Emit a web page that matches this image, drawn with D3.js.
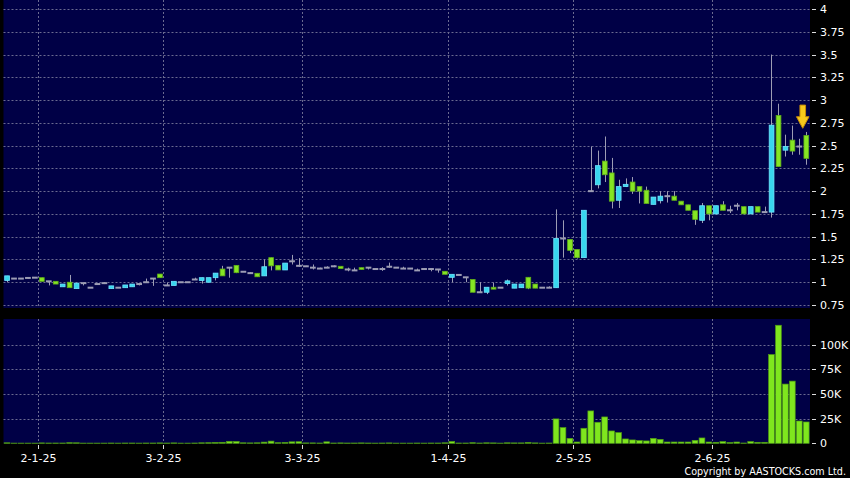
<!DOCTYPE html>
<html><head><meta charset="utf-8">
<script src="https://cdn.jsdelivr.net/npm/d3@7/dist/d3.min.js"></script>
<style>html,body{margin:0;padding:0;background:#000;}svg{display:block;}</style>
</head><body>
<svg id="chart" width="850" height="478"></svg>
<script>
// Daily OHLC (HKD), 23-12-24 .. 19-6-25
const opens = [1.02,1.04,1.04,1.047,1.05,1.05,1.01,1.01,0.95,1.0,0.93,0.99,0.94,0.98,0.99,0.93,0.94,0.94,0.95,0.98,
1.0,1.04,1.09,0.965,0.965,1.0,1.0,1.03,1.02,1.0,1.05,1.145,1.16,1.185,1.115,1.10,1.098,1.07,1.27,1.185,
1.135,1.23,1.18,1.175,1.16,1.15,1.16,1.175,1.175,1.14,1.13,1.16,1.16,1.145,1.145,1.17,1.16,1.15,1.15,1.13,
1.145,1.145,1.14,1.12,1.054,1.08,1.054,1.03,0.89,0.89,0.945,0.94,0.986,0.935,0.94,1.054,0.98,0.94,0.94,0.94,
1.48,1.47,1.36,1.27,2.0,2.07,2.33,2.20,1.90,2.05,2.10,2.05,2.01,1.855,1.895,1.945,1.945,1.89,1.85,1.785,
1.68,1.84,1.75,1.85,1.79,1.84,1.83,1.75,1.83,1.77,1.77,2.83,2.45,2.56,2.49,2.61];
const highs = [1.07,1.045,1.04,1.055,1.05,1.05,1.01,1.01,0.98,1.08,0.99,0.99,0.94,0.98,1.0,0.96,0.94,0.97,0.98,0.99,
1.04,1.04,1.09,0.997,1.01,1.0,1.0,1.05,1.05,1.05,1.10,1.18,1.16,1.185,1.115,1.11,1.098,1.25,1.27,1.185,
1.21,1.30,1.265,1.18,1.195,1.16,1.175,1.185,1.175,1.16,1.16,1.16,1.16,1.145,1.165,1.215,1.16,1.17,1.15,1.15,
1.15,1.15,1.14,1.12,1.087,1.08,1.054,1.03,1.0,0.945,0.997,0.94,1.03,0.98,0.98,1.054,0.98,0.94,0.955,1.80,
1.68,1.47,1.36,1.79,2.49,2.445,2.60,2.365,2.125,2.14,2.155,2.05,2.05,1.935,2.0,2.0,2.0,1.89,1.85,1.785,
1.87,1.84,1.84,1.89,1.84,1.87,1.83,1.83,1.83,1.83,3.5,2.96,2.62,2.72,2.575,2.65];
const lows = [1.0,1.04,1.04,1.04,1.05,1.01,0.965,0.98,0.95,0.94,0.93,0.965,0.94,0.98,0.98,0.93,0.94,0.94,0.95,0.965,
1.0,0.96,1.05,0.965,0.965,1.0,1.0,1.025,0.985,1.0,1.02,1.07,1.05,1.10,1.115,1.09,1.06,1.07,1.13,1.135,
1.135,1.195,1.17,1.17,1.14,1.145,1.155,1.165,1.15,1.12,1.13,1.14,1.14,1.145,1.125,1.16,1.16,1.15,1.15,1.125,
1.135,1.12,1.105,1.087,1.0,1.08,1.0,0.89,0.89,0.87,0.924,0.94,0.964,0.935,0.94,0.924,0.935,0.94,0.94,0.94,
1.27,1.32,1.26,1.27,2.0,2.03,2.10,1.81,1.815,2.045,1.97,1.865,1.865,1.855,1.865,1.875,1.90,1.85,1.79,1.63,
1.65,1.68,1.75,1.79,1.76,1.79,1.75,1.75,1.77,1.77,1.71,2.27,2.38,2.40,2.40,2.29];
const closes = [1.07,1.04,1.04,1.047,1.05,1.01,1.01,0.98,0.98,0.94,0.99,0.99,0.94,0.98,0.99,0.96,0.94,0.97,0.98,0.98,
1.0,1.04,1.05,0.965,1.01,1.0,1.0,1.03,1.05,1.05,1.10,1.07,1.16,1.105,1.115,1.10,1.06,1.17,1.18,1.135,
1.21,1.23,1.18,1.175,1.16,1.15,1.16,1.175,1.15,1.14,1.13,1.14,1.16,1.145,1.145,1.17,1.16,1.15,1.15,1.13,
1.145,1.145,1.14,1.087,1.087,1.08,1.054,0.89,0.89,0.945,0.924,0.94,1.015,0.98,0.98,0.935,0.935,0.94,0.94,1.48,
1.48,1.35,1.27,1.79,2.0,2.28,2.18,1.89,2.05,2.075,2.0,2.0,1.865,1.935,1.945,1.945,1.90,1.85,1.79,1.69,
1.84,1.75,1.84,1.79,1.79,1.84,1.75,1.83,1.77,1.77,2.725,2.27,2.49,2.44,2.49,2.36];
// Daily volume (thousand shares)
const volumes = [0.5,0.2,0.2,0.2,0.2,0.4,0.3,0.3,0.3,0.6,0.5,0.2,0.2,0.2,0.2,0.3,0.2,0.3,0.3,0.2,
0.3,0.3,0.4,0.3,0.4,0.2,0.2,0.3,0.5,0.6,0.8,1.0,2.0,1.8,0.5,0.4,0.5,1.2,2.2,0.6,
0.8,1.5,1.6,0.4,0.4,0.3,1.5,0.3,0.4,0.3,0.3,0.4,0.3,0.2,0.3,0.4,0.2,0.2,0.2,0.3,
0.2,0.3,0.3,0.5,1.8,0.3,0.3,0.6,0.3,0.5,0.4,0.2,0.5,0.4,0.4,0.8,0.4,0.2,0.3,24.7,
15.9,5.0,1.3,15.2,32.8,21.3,26.7,12.5,10.8,4.4,3.4,2.7,2.4,5.0,4.0,1.3,1.3,1.3,1.3,3.0,
5.4,1.3,1.0,1.7,0.7,1.3,0.3,1.7,1.0,1.0,89.9,119.6,60,63,22.6,21.6];
// Month-start ticks: candle index and label
const monthTickIndex = [5, 23, 43, 64, 82, 102];
const monthTickLabels = ["2-1-25", "3-2-25", "3-3-25", "1-4-25", "2-5-25", "2-6-25"];
const priceTicks = [0.75,1,1.25,1.5,1.75,2,2.25,2.5,2.75,3,3.25,3.5,3.75,4];
const volumeTicks = [0,25,50,75,100];
const volumeTickLabels = ["0","25K","50K","75K","100K"];
const arrowIndex = 115, arrowTop = 2.945, arrowTip = 2.69;
</script>
<script>
const N = closes.length;
const svg = d3.select("#chart");
const W = 850, H = 478;
svg.append("rect").attr("width", W).attr("height", H).attr("fill", "#000");

const x = d3.scaleBand().domain(d3.range(N)).range([3.5, 809.7]).padding(0);
const y = d3.scaleLinear().domain([0.75, 4]).range([305, 9]);
const yv = d3.scaleLinear().domain([0, 100]).range([443.3, 344.6]);

const navy = "#000046";
const pTop = 0, pBot = 308, vTop = 319, vBot = 443.5, L = 3.5, R = 810;
svg.append("rect").attr("x", L).attr("y", pTop).attr("width", R - L).attr("height", pBot - pTop).attr("fill", navy);
svg.append("rect").attr("x", L).attr("y", vTop).attr("width", R - L).attr("height", vBot - vTop).attr("fill", navy);

const gridColor = "#6a6a90";
const grid = svg.append("g").attr("stroke", gridColor).attr("stroke-width", 1).attr("stroke-dasharray", "2,2");
grid.selectAll(".hp").data(priceTicks).join("line")
  .attr("x1", L).attr("x2", R).attr("y1", d => Math.round(y(d)) + 0.5).attr("y2", d => Math.round(y(d)) + 0.5);
grid.selectAll(".hv").data(volumeTicks.slice(1)).join("line")
  .attr("x1", L).attr("x2", R).attr("y1", d => Math.round(yv(d)) + 0.5).attr("y2", d => Math.round(yv(d)) + 0.5);
monthTickIndex.forEach(i => {
  const gx = Math.round(x(i)) + 0.5;
  grid.append("line").attr("x1", gx).attr("x2", gx).attr("y1", pTop).attr("y2", pBot);
  grid.append("line").attr("x1", gx).attr("x2", gx).attr("y1", vTop).attr("y2", vBot);
});

const cyan = "#38d6ee", cyanEdge = "#6ee6ff";
const green = "#86e524", greenEdge = "#5fae18";
const grey = "#9d9db4";
const bw = x.bandwidth();
const idx = d3.range(N);

// wicks
svg.append("g").selectAll("line").data(idx).join("line")
  .attr("x1", i => Math.round(x(i) + bw / 2) + 0.5).attr("x2", i => Math.round(x(i) + bw / 2) + 0.5)
  .attr("y1", i => y(highs[i])).attr("y2", i => y(lows[i]))
  .attr("stroke", grey).attr("stroke-width", 1);

// bodies
const bodies = svg.append("g");
idx.forEach(i => {
  const o = opens[i], c = closes[i];
  if (o === c) {
    bodies.append("rect").attr("x", x(i) + 0.7).attr("width", bw - 1.2)
      .attr("y", y(c) - 1).attr("height", 2).attr("fill", grey);
  } else {
    const up = c > o;
    const top = y(Math.max(o, c)), bot = y(Math.min(o, c));
    bodies.append("rect").attr("x", x(i) + 1.2).attr("width", bw - 2.2)
      .attr("y", top).attr("height", Math.max(1, bot - top))
      .attr("fill", up ? cyan : green).attr("stroke", up ? cyanEdge : greenEdge).attr("stroke-width", 0.8);
  }
});

// volume bars
svg.append("g").selectAll("rect").data(idx).join("rect")
  .attr("x", i => x(i) + 0.6).attr("width", bw - 1.2)
  .attr("y", i => yv(volumes[i])).attr("height", i => yv(0) - yv(volumes[i]))
  .attr("fill", "#7fe61e").attr("stroke", "#4f9c12").attr("stroke-width", 0.7);

// arrow marker
const ax = x(arrowIndex), at = y(arrowTop), ap = y(arrowTip);
const mid = at + (ap - at) * 0.5;
svg.append("path")
  .attr("d", `M${ax-2.8},${at} L${ax+2.8},${at} L${ax+2.8},${mid} L${ax+6.3},${mid} L${ax},${ap} L${ax-6.3},${mid} L${ax-2.8},${mid} Z`)
  .attr("fill", "#f7c81c").attr("stroke", "#c58a08").attr("stroke-width", 1);

// axes text
const font = "DejaVu Sans, Verdana, sans-serif";
const ax1 = svg.append("g").attr("font-family", font).attr("font-size", 11).attr("fill", "#fff");
priceTicks.forEach(v => {
  const yy = Math.round(y(v)) + 0.5;
  ax1.append("line").attr("x1", 812).attr("x2", 816).attr("y1", yy).attr("y2", yy).attr("stroke", "#ddd");
  ax1.append("text").attr("x", 820).attr("y", yy).attr("dy", "0.36em").text(v);
});
volumeTicks.forEach((v, k) => {
  const yy = Math.round(yv(v)) + 0.5;
  ax1.append("line").attr("x1", 812).attr("x2", 816).attr("y1", yy).attr("y2", yy).attr("stroke", "#ddd");
  ax1.append("text").attr("x", 820).attr("y", yy).attr("dy", "0.36em").text(volumeTickLabels[k]);
});
monthTickIndex.forEach((i, k) => {
  const tx = Math.round(x(i)) + 0.5;
  ax1.append("line").attr("x1", tx).attr("x2", tx).attr("y1", 445).attr("y2", 449).attr("stroke", "#ddd");
  ax1.append("text").attr("x", tx).attr("y", 462).attr("text-anchor", "middle").text(monthTickLabels[k]);
});
svg.append("text").attr("x", 846).attr("y", 475).attr("text-anchor", "end")
  .attr("font-family", font).attr("font-size", 9.6).attr("fill", "#fff")
  .text("Copyright by AASTOCKS.com Ltd.");
</script>
</body></html>
